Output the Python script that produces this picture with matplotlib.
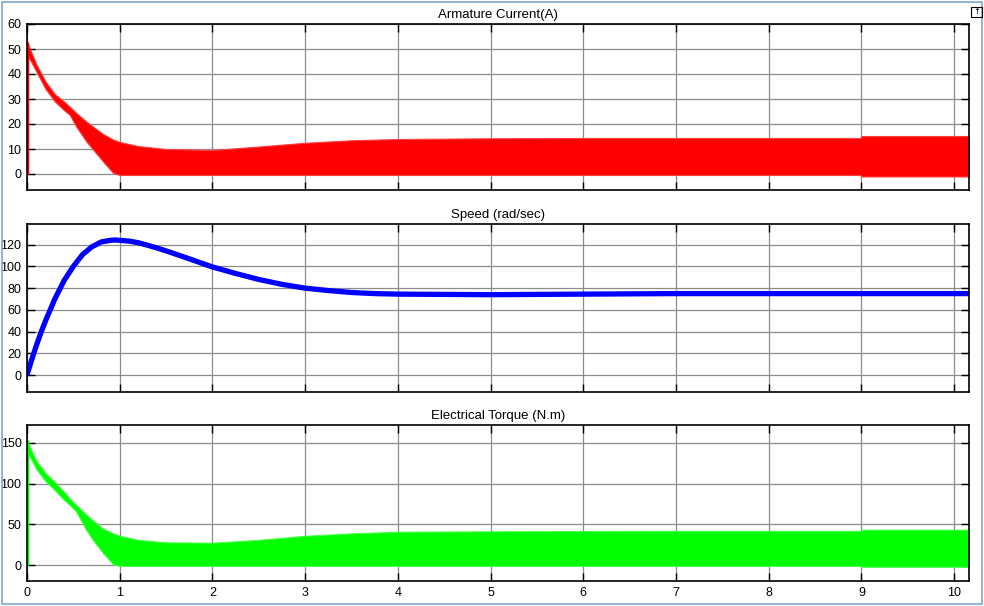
import matplotlib.pyplot as plt
from matplotlib.patches import Rectangle

plt.rcParams['font.family'] = ['Liberation Sans', 'DejaVu Sans']

# time points (s) for the ripple envelopes
t = [0, 0.1, 0.2, 0.3, 0.4, 0.46, 0.53, 0.64, 0.73, 0.82, 0.93, 1.0, 1.2, 1.5,
     2.0, 2.5, 3.0, 3.5, 4.0, 5.0, 6.0, 7.0, 8.0, 8.99, 9.0, 10.16]

# armature current (A): upper / lower edge of the ripple band
ia_hi = [53, 44, 37, 32, 29, 27, 24.5, 21, 18.5, 16, 13.8, 12.8, 11.2, 10,
         9.6, 11, 12.5, 13.5, 14, 14.3, 14.4, 14.4, 14.4, 14.4, 15.2, 15.2]
ia_lo = [48, 41, 34, 29, 25.5, 23.7, 19, 13, 9, 5, 0.4, -0.4, -0.4, -0.4,
         -0.4, -0.4, -0.4, -0.4, -0.4, -0.4, -0.4, -0.4, -0.4, -0.4, -1, -1]

# electrical torque (N.m): upper / lower edge of the ripple band
te_hi = [153, 128, 113, 102, 90, 82, 74, 62, 53, 45, 39, 36, 31, 28,
         27.5, 31, 36, 39, 41, 41.5, 41.8, 42, 42, 42, 43.5, 43.5]
te_lo = [140, 118, 103, 92, 80, 74, 66, 43, 28, 15, 1, -1, -1, -1,
         -1, -1, -1, -1, -1, -1, -1, -1, -1, -1, -2, -2]

# speed (rad/sec)
t_speed = [0, 0.05, 0.1, 0.15, 0.2, 0.3, 0.4, 0.5, 0.6, 0.7, 0.8, 0.9, 0.95,
           1.0, 1.1, 1.2, 1.3, 1.4, 1.5, 1.75, 2.0, 2.25, 2.5, 2.75, 3.0,
           3.25, 3.5, 3.75, 4.0, 5.0, 6.0, 7.0, 8.0, 9.0, 10.16]
speed = [0, 14, 27, 39, 50, 70, 87, 100, 111, 118, 122.5, 124, 124.3,
         124, 123.3, 121.8, 119.5, 117, 114.3, 107, 99.5, 93.5, 88, 83.5, 80,
         77.8, 76, 75, 74.5, 74, 74.5, 75, 75, 75, 75]

titles = ["Armature Current(A)", "Speed (rad/sec)", "Electrical Torque (N.m)"]
xticks = list(range(0, 11))

fig = plt.figure(figsize=(9.84, 6.06), dpi=100)
W, H = 984, 606
left, right = 27 / W, 969 / W
boxes = [(24, 190), (224, 392), (425, 581)]
axes = []
for top, bot in boxes:
    ax = fig.add_axes([left, 1 - bot / H, right - left, (bot - top) / H])
    axes.append(ax)

ax1, ax2, ax3 = axes

ax1.fill_between(t, ia_lo, ia_hi, color='#ff0000', lw=0.8, edgecolor='#ff4040')
ax1.vlines(t[0], 0, ia_hi[0], color='#ff0000', lw=2.5)
ax1.set_ylim(-6.4, 60)
ax1.set_yticks(range(0, 61, 10))

ax2.plot(t_speed, speed, color='#0000ff', lw=3.8, solid_capstyle='butt',
         solid_joinstyle='round')
ax2.set_ylim(-15.5, 139)
ax2.set_yticks(range(0, 121, 20))

ax3.fill_between(t, te_lo, te_hi, color='#00ff00', lw=0.8, edgecolor='#40ff40')
ax3.vlines(t[0], 0, te_hi[0], color='#00ff00', lw=2.5)
ax3.set_ylim(-19.5, 172)
ax3.set_yticks(range(0, 151, 50))

for ax, title in zip(axes, titles):
    ax.set_xlim(0, 10.16)
    ax.set_xticks(xticks)
    ax.grid(True, color='#8c8c8c', lw=0.9)
    ax.set_axisbelow(True)
    ax.tick_params(direction='in', length=6, width=1, top=True, right=True,
                   labelsize=9, colors='black', pad=4)
    for sp in ax.spines.values():
        sp.set_linewidth(1.2)
    ax.set_title(title, fontsize=9.5, pad=4)

ax1.tick_params(labelbottom=False)
ax2.tick_params(labelbottom=False)

# window frame and undock icon of the scope
fig.add_artist(Rectangle((1.5 / W, 2 / H), 980 / W, 602 / H, transform=fig.transFigure,
                         fill=False, edgecolor='#7fa7d0', lw=1.2))
fig.add_artist(Rectangle((971 / W, 1 - 17 / H), 11 / W, 10 / H, transform=fig.transFigure,
                         fill=False, edgecolor='black', lw=0.8))
fig.text(976.5 / W, 1 - 12 / H, "\u2191", fontsize=6, ha='center', va='center',
         family='DejaVu Sans')

fig.savefig("out.png", dpi=100)
